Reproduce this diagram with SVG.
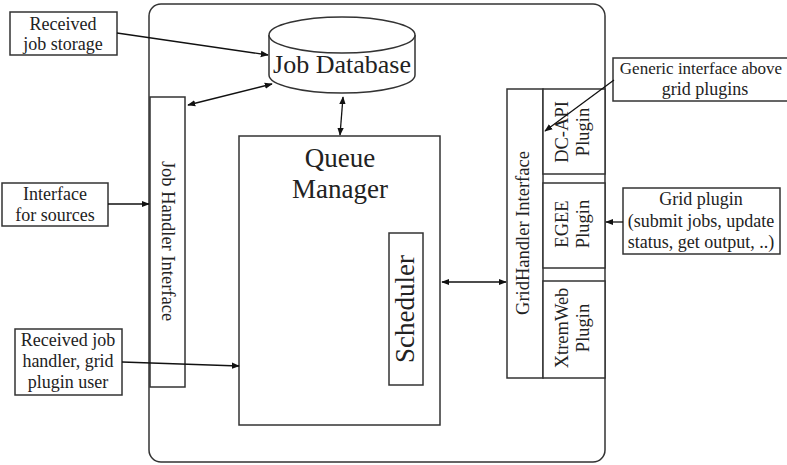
<svg xmlns="http://www.w3.org/2000/svg" width="787" height="465" viewBox="0 0 787 465">
<style>
.box{fill:#fff;stroke:#333;stroke-width:1.5}
.t{font-family:"Liberation Serif","Times New Roman",serif;fill:#222;text-anchor:middle}
.s{font-size:18px}
.m{font-size:18.5px}
.l{font-size:27px}
.c{stroke:#111;stroke-width:1.3;fill:none}
</style>
<defs>
<marker id="ah" viewBox="0 0 10 10" refX="9" refY="5" markerWidth="8" markerHeight="8" orient="auto-start-reverse" markerUnits="userSpaceOnUse">
<path d="M0,1 L10,5 L0,9 Z" fill="#111"/>
</marker>
</defs>
<rect id="outer" x="149" y="4" width="456" height="458" rx="12" ry="12" fill="#fff" stroke="#333" stroke-width="1.5"/>
<g id="jobdb">
<path d="M269,35 L269,75 A73,18 0 0 0 415,75 L415,35" class="box"/>
<ellipse cx="342" cy="35" rx="73" ry="18" class="box"/>
<text x="342" y="73" class="t" style="font-size:26px">Job Database</text>
</g>
<g id="jhi">
<rect x="150" y="97" width="35" height="290" class="box"/>
<text transform="translate(162,241) rotate(90)" class="t m">Job Handler Interface</text>
</g>
<g id="qm">
<rect x="239" y="136" width="201" height="289" class="box"/>
<text x="340" y="167" class="t l">Queue</text>
<text x="340" y="198" class="t l">Manager</text>
</g>
<g id="scheduler">
<rect x="389" y="233" width="34" height="152" class="box"/>
<text transform="translate(414,309) rotate(-90)" class="t l">Scheduler</text>
</g>
<g id="ghi">
<rect x="507" y="89" width="36" height="289" class="box"/>
<text transform="translate(529,233) rotate(-90)" class="t m">GridHandler Interface</text>
</g>
<g id="dcapi">
<rect x="543" y="89" width="62" height="85" class="box"/>
<text transform="translate(568,132) rotate(-90)" class="t m">DC-API</text>
<text transform="translate(589,132) rotate(-90)" class="t m">Plugin</text>
</g>
<g id="egee">
<rect x="543" y="183" width="62" height="85" class="box"/>
<text transform="translate(568,224) rotate(-90)" class="t m">EGEE</text>
<text transform="translate(589,224) rotate(-90)" class="t m">Plugin</text>
</g>
<g id="xtremweb">
<rect x="543" y="281" width="62" height="97" class="box"/>
<text transform="translate(568,328) rotate(-90)" class="t m">XtremWeb</text>
<text transform="translate(589,328) rotate(-90)" class="t m">Plugin</text>
</g>
<g id="rjs">
<rect x="10" y="12" width="107" height="43" class="box"/>
<text x="63" y="30" class="t s">Received</text>
<text x="63" y="50" class="t s">job storage</text>
</g>
<g id="ifs">
<rect x="2" y="183" width="106" height="43" class="box"/>
<text x="55" y="200" class="t s">Interface</text>
<text x="55" y="221" class="t s">for sources</text>
</g>
<g id="rjh">
<rect x="15" y="329" width="107" height="66" class="box"/>
<text x="68" y="346" class="t s">Received job</text>
<text x="68" y="367" class="t s">handler, grid</text>
<text x="68" y="388" class="t s">plugin user</text>
</g>
<g id="generic">
<rect x="613" y="58" width="180" height="43" class="box"/>
<text x="701" y="74" class="t" style="font-size:17px">Generic interface above</text>
<text x="705" y="95" class="t s">grid plugins</text>
</g>
<g id="gridplugin">
<rect x="623" y="188" width="157" height="66" class="box"/>
<text x="701" y="205" class="t s">Grid plugin</text>
<text x="701" y="227" class="t s">(submit jobs, update</text>
<text x="701" y="248" class="t s">status, get output, ..)</text>
</g>
<g id="connectors">
<line x1="117" y1="33" x2="268" y2="55" class="c" marker-end="url(#ah)"/>
<line x1="188" y1="105" x2="272" y2="84" class="c" marker-start="url(#ah)" marker-end="url(#ah)"/>
<line x1="343" y1="97" x2="340" y2="135" class="c" marker-start="url(#ah)" marker-end="url(#ah)"/>
<line x1="108" y1="204" x2="149" y2="204" class="c" marker-end="url(#ah)"/>
<line x1="122" y1="362" x2="239" y2="366" class="c" marker-end="url(#ah)"/>
<line x1="442" y1="282" x2="506" y2="282" class="c" marker-start="url(#ah)" marker-end="url(#ah)"/>
<line x1="614" y1="80" x2="545" y2="131" class="c" marker-end="url(#ah)"/>
<line x1="623" y1="222" x2="606" y2="222" class="c" marker-end="url(#ah)"/>
</g>
</svg>
